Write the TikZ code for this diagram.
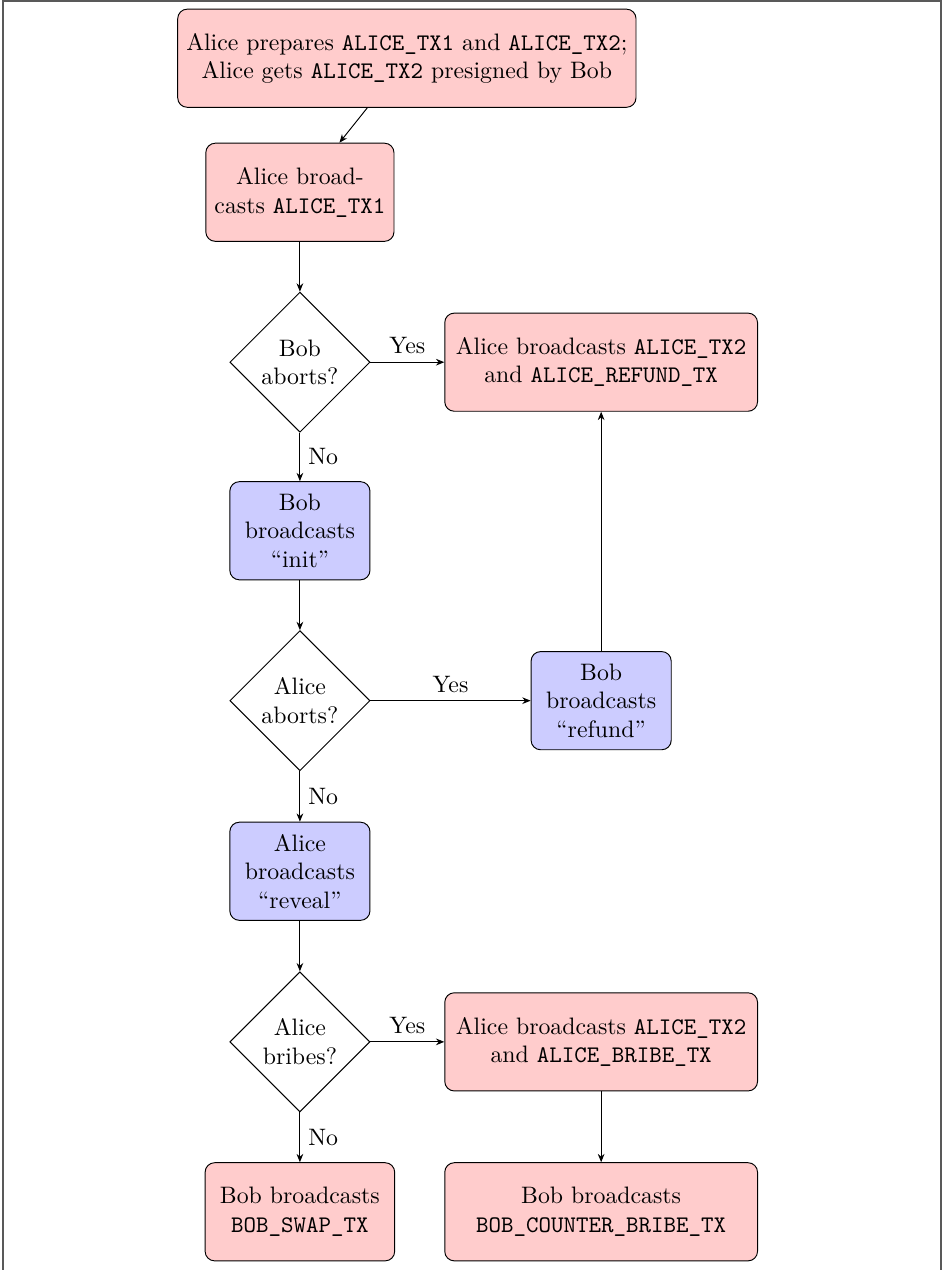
\documentclass[tikz,border=0pt]{standalone}
\usepackage{tikz}
\usetikzlibrary{arrows.meta,positioning,shapes.geometric}
\usepackage{xcolor}

\tikzset{
  redbox/.style={rectangle,draw,rounded corners,fill=red!20,align=center,minimum height=1.45cm},
  bluebox/.style={rectangle,draw,rounded corners,fill=blue!20,align=center,minimum height=1.45cm,minimum width=2.07cm},
  decision/.style={diamond,draw,align=center,inner sep=0pt,minimum width=2.07cm,minimum height=2.07cm},
  frameline/.style={draw=black!65,line width=0.8pt}
}

\begin{document}
\begin{tikzpicture}[x=1cm,y=1cm,>={Stealth[length=3.5pt,width=2.8pt]}]
    \useasboundingbox (0,0) rectangle (13.93,-18.76);
    \draw[frameline] (0.04,-18.76) -- (0.04,-0.02) -- (13.9,-0.02) -- (13.9,-18.76);

    % left column
    \node[redbox,minimum width=6.77cm] (prep) at (6.01,-0.86) {Alice prepares \texttt{ALICE\_TX1} and \texttt{ALICE\_TX2};\\Alice gets \texttt{ALICE\_TX2} presigned by Bob};
    \node[redbox,minimum width=2.78cm] (tx1) at (4.43,-2.84) {Alice broad-\\casts \texttt{ALICE\_TX1}};
    \node[decision] (bobabort) at (4.43,-5.35) {Bob\\aborts?};
    \node[bluebox] (init) at (4.43,-7.84) {Bob\\broadcasts\\``init''};
    \node[decision] (aliceabort) at (4.43,-10.35) {Alice\\aborts?};
    \node[bluebox] (reveal) at (4.43,-12.87) {Alice\\broadcasts\\``reveal''};
    \node[decision] (bribe) at (4.43,-15.39) {Alice\\bribes?};
    \node[redbox,minimum width=2.8cm] (swap) at (4.43,-17.90) {Bob broadcasts\\\texttt{BOB\_SWAP\_TX}};

    % right column
    \node[redbox,minimum width=4.62cm] (refundtx) at (8.88,-5.35) {Alice broadcasts \texttt{ALICE\_TX2}\\and \texttt{ALICE\_REFUND\_TX}};
    \node[bluebox] (bobrefund) at (8.88,-10.35) {Bob\\broadcasts\\``refund''};
    \node[redbox,minimum width=4.62cm] (bribetx) at (8.88,-15.39) {Alice broadcasts \texttt{ALICE\_TX2}\\and \texttt{ALICE\_BRIBE\_TX}};
    \node[redbox,minimum width=4.62cm] (counter) at (8.88,-17.90) {Bob broadcasts\\\texttt{BOB\_COUNTER\_BRIBE\_TX}};

    % connectors
    \draw[->] (prep) -- (tx1);
    \draw[->] (tx1) -- (bobabort);
    \draw[->] (bobabort) -- node[above] {Yes} (refundtx);
    \draw[->] (bobabort) -- node[right] {No} (init);
    \draw[->] (init) -- (aliceabort);
    \draw[->] (aliceabort) -- node[above] {Yes} (bobrefund);
    \draw[->] (bobrefund) -- (refundtx);
    \draw[->] (aliceabort) -- node[right] {No} (reveal);
    \draw[->] (reveal) -- (bribe);
    \draw[->] (bribe) -- node[above] {Yes} (bribetx);
    \draw[->] (bribe) -- node[right] {No} (swap);
    \draw[->] (bribetx) -- (counter);
\end{tikzpicture}
\end{document}
